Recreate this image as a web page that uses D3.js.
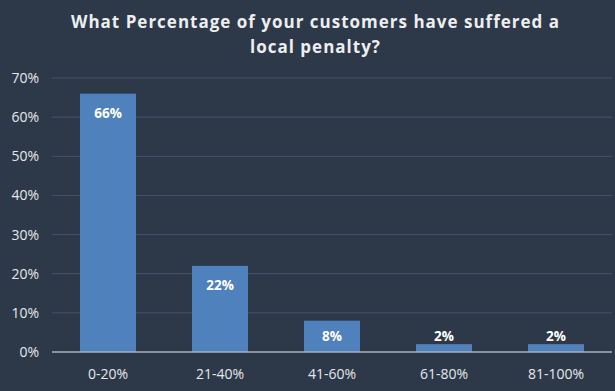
<!DOCTYPE html>
<html><head><meta charset="utf-8">
<script src="https://cdn.jsdelivr.net/npm/d3@7"></script>
<style>
html,body{margin:0;padding:0;background:#2d3849;}
svg{display:block;}
</style></head>
<body>
<script>
const categories = ["0-20%","21-40%","41-60%","61-80%","81-100%"];
const values = [66,22,8,2,2];
const yTicks = [0,10,20,30,40,50,60,70];
const titleLines = ["What Percentage of your customers have suffered a","local penalty?"];

const W=615,H=391;
const m={left:52,right:3,top:78,bottom:39};
const svg=d3.select("body").append("svg").attr("width",W).attr("height",H);
svg.append("rect").attr("width",W).attr("height",H).attr("fill","#2d3849");

const x=d3.scaleBand().domain(categories).range([m.left,W-m.right]).paddingInner(0.5).paddingOuter(0.25);
const y=d3.scaleLinear().domain([0,70]).range([H-m.bottom,m.top]);

// gridlines
svg.append("g").selectAll("line").data(yTicks.filter(d=>d>0)).join("line")
  .attr("x1",m.left).attr("x2",W-m.right)
  .attr("y1",d=>y(d)).attr("y2",d=>y(d))
  .attr("stroke","#46536a").attr("stroke-width",1);

// y axis labels
const ya=svg.append("g").attr("transform",`translate(${m.left-13},0)`)
  .call(d3.axisLeft(y).tickValues(yTicks).tickFormat(d=>d+"%").tickSize(0).tickPadding(0));
ya.select(".domain").remove();
ya.selectAll("text").attr("fill","#e6e8ec").style("font-family","'Open Sans',sans-serif").style("font-size","14px");

// bars
svg.append("g").selectAll("rect").data(values).join("rect")
  .attr("x",(d,i)=>x(categories[i])).attr("width",x.bandwidth())
  .attr("y",d=>y(d)).attr("height",d=>y(0)-y(d))
  .attr("fill","#4f81bd");

// baseline
svg.append("line").attr("x1",m.left).attr("x2",W-m.right)
  .attr("y1",y(0)).attr("y2",y(0)).attr("stroke","#a9b0ba").attr("stroke-width",1.5);

// value labels
svg.append("g").selectAll("text").data(values).join("text")
  .attr("x",(d,i)=>x(categories[i])+x.bandwidth()/2)
  .attr("y",d=>{const h=y(0)-y(d); return h>20? Math.min(y(d)+24,(y(d)+y(0))/2+4.5) : y(d)-3;})
  .attr("text-anchor","middle").attr("fill","#ffffff")
  .style("font-family","'Open Sans',sans-serif").style("font-weight","bold").style("font-size","13.5px")
  .text(d=>d+"%");

// x axis
const xa=svg.append("g").attr("transform",`translate(0,${y(0)+8})`)
  .call(d3.axisBottom(x).tickSize(0).tickPadding(9));
xa.select(".domain").remove();
xa.selectAll("text").attr("fill","#e6e8ec").style("font-family","'Open Sans',sans-serif").style("font-size","14px");

// title
svg.append("g").selectAll("text").data(titleLines).join("text")
  .attr("x",W/2+8).attr("y",(d,i)=>28+i*24.5)
  .attr("text-anchor","middle").attr("fill","#eceef0")
  .style("font-family","'Open Sans',sans-serif").style("font-weight","bold").style("font-size","17px")
  .style("letter-spacing","1px")
  .text(d=>d);
</script>
</body></html>
